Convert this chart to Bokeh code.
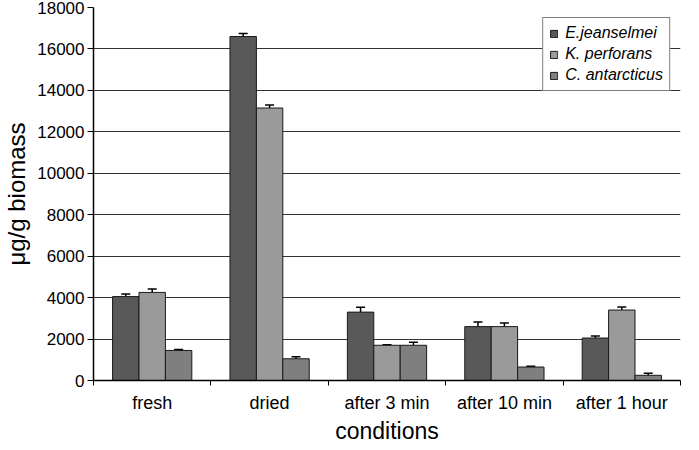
from bokeh.plotting import figure
from bokeh.models import (ColumnDataSource, Range1d, FixedTicker, Whisker, TeeHead,
                          Legend, LegendItem)
from bokeh.transform import dodge
from bokeh.embed import file_html
from bokeh.resources import INLINE

categories = ["fresh", "dried", "after 3 min", "after 10 min", "after 1 hour"]
series = ["E.jeanselmei", "K. perforans", "C. antarcticus"]
e_vals = [4050, 16600, 3300, 2600, 2050]
e_err = [130, 150, 230, 220, 100]
k_vals = [4250, 13150, 1700, 2600, 3400]
k_err = [170, 150, 30, 170, 150]
c_vals = [1450, 1050, 1700, 650, 250]
c_err = [40, 100, 140, 40, 100]
y_ticks = [0, 2000, 4000, 6000, 8000, 10000, 12000, 14000, 16000, 18000]

colors = ["#595959", "#9a9a9a", "#7f7f7f"]
offsets = [-0.225, 0.0, 0.225]
bar_w = 0.225

x_centers = [i + 0.5 for i in range(len(categories))]

p = figure(width=683, height=446, output_backend="svg", toolbar_location=None,
           x_range=Range1d(0, len(categories)), y_range=Range1d(0, 18000),
           min_border_left=86, min_border_right=3, min_border_top=7, min_border_bottom=60)
p.outline_line_color = None
p.background_fill_color = "white"

items = []
for vals, errs, col, off, name in zip([e_vals, k_vals, c_vals], [e_err, k_err, c_err],
                                      colors, offsets, series):
    src = ColumnDataSource(dict(
        x=x_centers, top=vals,
        upper=[v + e for v, e in zip(vals, errs)],
        lower=[v - e for v, e in zip(vals, errs)],
    ))
    r = p.vbar(x=dodge("x", off), top="top", width=bar_w, source=src,
               fill_color=col, line_color="#1a1a1a", line_width=1)
    w = Whisker(base=dodge("x", off), upper="upper", lower="lower", source=src,
                line_color="black", line_width=1.5,
                upper_head=TeeHead(size=9, line_color="black", line_width=1.5),
                lower_head=TeeHead(size=9, line_color="black", line_width=1.5))
    p.add_layout(w)
    items.append(LegendItem(label=name, renderers=[r]))

legend = Legend(items=items, location="top_right")
legend.label_text_font = "Liberation Sans"
legend.label_text_font_style = "italic"
legend.label_text_font_size = "16px"
legend.label_text_color = "black"
legend.glyph_width = 9
legend.glyph_height = 9
legend.label_standoff = 7
legend.spacing = 3
legend.padding = 6
legend.margin = 10
legend.border_line_color = "black"
legend.border_line_width = 1.5
legend.background_fill_alpha = 1
p.add_layout(legend)

# x axis
p.xaxis.ticker = FixedTicker(ticks=x_centers, minor_ticks=list(range(len(categories) + 1)))
p.xaxis.major_label_overrides = {xc: c for xc, c in zip(x_centers, categories)}
p.xaxis.major_tick_out = 0
p.xaxis.major_tick_in = 0
p.xaxis.minor_tick_out = 5
p.xaxis.minor_tick_in = 0
p.xaxis.axis_line_color = "black"
p.xaxis.axis_line_width = 1.5
p.xaxis.major_label_text_font = "Liberation Sans"
p.xaxis.major_label_text_font_size = "18px"
p.xaxis.major_label_text_color = "black"
p.xaxis.major_label_standoff = 7
p.xaxis.axis_label = "conditions"
p.xaxis.axis_label_text_font = "Liberation Sans"
p.xaxis.axis_label_text_font_style = "normal"
p.xaxis.axis_label_text_font_size = "23px"
p.xaxis.axis_label_text_color = "black"
p.xaxis.axis_label_standoff = 2

# y axis
p.yaxis.ticker = FixedTicker(ticks=y_ticks)
p.yaxis.major_tick_out = 6
p.yaxis.major_tick_in = 0
p.yaxis.minor_tick_out = 0
p.yaxis.minor_tick_in = 0
p.yaxis.axis_line_color = "black"
p.yaxis.axis_line_width = 1.5
p.yaxis.major_label_text_font = "Liberation Sans"
p.yaxis.major_label_text_font_size = "17px"
p.yaxis.major_label_text_color = "black"
p.yaxis.major_label_standoff = 3
p.yaxis.axis_label = "\u03bcg/g biomass"
p.yaxis.axis_label_text_font = "Liberation Sans"
p.yaxis.axis_label_text_font_style = "normal"
p.yaxis.axis_label_text_font_size = "24px"
p.yaxis.axis_label_text_color = "black"
p.yaxis.axis_label_standoff = 4

p.xgrid.grid_line_color = None
p.ygrid.ticker = FixedTicker(ticks=y_ticks)
p.ygrid.grid_line_color = "#333333"
p.ygrid.grid_line_width = 1.2

open("out.html", "w").write(file_html(p, INLINE))
